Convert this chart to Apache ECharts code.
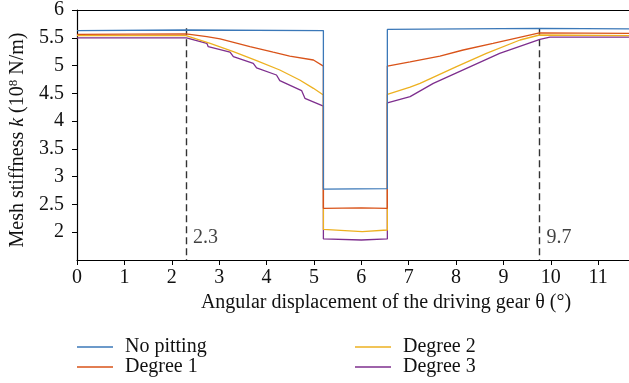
<!DOCTYPE html>
<html>
<head>
<meta charset="utf-8">
<script src="https://cdn.jsdelivr.net/npm/echarts@6/dist/echarts.min.js"></script>
<style>html,body{margin:0;padding:0;background:#fff}#c{width:629px;height:383px}</style>
</head>
<body>
<div id="c"></div>
<script>
const seriesNames = ['No pitting', 'Degree 1', 'Degree 2', 'Degree 3'];
const noPitX = [0, 2.3, 5.2, 5.2, 6.55, 6.55, 9.76, 11.65];
const noPitY = [5.63, 5.64, 5.63, 2.775, 2.785, 5.65, 5.67, 5.66];
const deg1X = [0, 2.3, 2.74, 3.02, 3.65, 4.14, 4.49, 4.99, 5.2, 5.2, 6.0, 6.55, 6.55, 7.03, 7.66, 8.15, 8.78, 9.76, 11.65];
const deg1Y = [5.56, 5.57, 5.52, 5.48, 5.34, 5.24, 5.17, 5.10, 4.99, 2.43, 2.44, 2.43, 4.99, 5.065, 5.17, 5.28, 5.40, 5.59, 5.58];
const deg2X = [0, 2.3, 2.81, 3.30, 3.79, 4.28, 4.70, 4.99, 5.2, 5.2, 6.02, 6.55, 6.55, 7.03, 7.24, 8.01, 8.64, 9.35, 9.76, 11.65];
const deg2Y = [5.54, 5.54, 5.40, 5.25, 5.09, 4.92, 4.74, 4.59, 4.47, 2.05, 2.01, 2.04, 4.48, 4.61, 4.68, 4.98, 5.22, 5.46, 5.55, 5.54];
const deg3X = [0, 2.31, 2.74, 2.77, 3.23, 3.30, 3.72, 3.79, 4.21, 4.28, 4.74, 4.81, 5.2, 5.2, 6.0, 6.55, 6.55, 7.03, 7.52, 8.22, 8.92, 9.77, 9.98, 11.65];
const deg3Y = [5.50, 5.50, 5.40, 5.34, 5.24, 5.16, 5.04, 4.96, 4.83, 4.73, 4.55, 4.41, 4.27, 1.88, 1.86, 1.88, 4.33, 4.44, 4.68, 4.95, 5.22, 5.47, 5.51, 5.51];
const markX = [2.3, 9.76];
const markLabels = ['2.3', '9.7'];
const markTop = 5.67;
const markLabelY = 1.9;
const xMin = 0, xMax = 11.65, yMin = 1.5, yMax = 6;

const colors = ['#3b78b8', '#d95319', '#edb120', '#7e2f8e'];
const font = 'Liberation Serif';
const fs = 20;
const zip = (xs, ys) => xs.map((x, i) => [x, ys[i]]);
const allData = [zip(noPitX, noPitY), zip(deg1X, deg1Y), zip(deg2X, deg2Y), zip(deg3X, deg3Y)];

const lineSeries = seriesNames.map((n, i) => ({
  name: n, type: 'line', data: allData[i], showSymbol: false, symbol: 'none',
  lineStyle: { color: colors[i], width: 1.3 }, itemStyle: { color: colors[i] },
  z: 10 - i, animation: false
}));

const legendPos = [[77, 337], [77, 357], [355, 337], [355, 357]];
const legends = seriesNames.map((n, i) => ({
  data: [n], left: legendPos[i][0], top: legendPos[i][1], icon: 'rect',
  itemWidth: 36, itemHeight: 1.5, padding: 0,
  textStyle: { fontFamily: font, fontSize: fs, color: '#111', padding: [0, 0, 0, 7] }
}));

const option = {
  animation: false,
  color: colors,
  legend: legends,
  grid: { left: 77, top: 10, right: 0, bottom: 123, containLabel: false, outerBoundsMode: 'none' },
  xAxis: [{
    type: 'value', min: xMin, max: xMax, interval: 1,
    name: 'Angular displacement of the driving gear θ (°)', nameLocation: 'middle', nameGap: 33,
    nameTextStyle: { fontFamily: font, fontSize: fs, color: '#111', padding: [0, 0, 0, 66] },
    axisLine: { show: true, onZero: false, lineStyle: { color: '#000', width: 1.2 } },
    axisTick: { show: true, length: 5, inside: false, lineStyle: { color: '#000' } },
    axisLabel: { fontFamily: font, fontSize: fs, color: '#111', margin: 8, showMaxLabel: false,
      formatter: v => (Math.abs(v - Math.round(v)) < 1e-6 ? String(v) : '') },
    splitLine: { show: false }
  }, {
    type: 'value', position: 'top', min: xMin, max: xMax,
    axisLine: { show: true, onZero: false, lineStyle: { color: '#000', width: 1.2 } },
    axisTick: { show: false }, axisLabel: { show: false }, splitLine: { show: false }
  }],
  yAxis: {
    type: 'value', min: yMin, max: yMax, interval: 0.5,
    name: '{a|Mesh stiffness }{i|k}{a| (10}{s|8}{a| N/m)}', nameLocation: 'middle', nameRotate: 90, nameGap: 47,
    nameTextStyle: { fontFamily: font, fontSize: fs, color: '#111', padding: [0, 10, 0, 0],
      rich: {
        a: { fontFamily: font, fontSize: fs, color: '#111' },
        i: { fontFamily: font, fontSize: fs, fontStyle: 'italic', color: '#111' },
        s: { fontFamily: font, fontSize: 13, color: '#111', verticalAlign: 'top', padding: [0, 0, 9, 0] }
      } },
    axisLine: { show: true, onZero: false, lineStyle: { color: '#000', width: 1.2 } },
    axisTick: { show: true, length: 5, lineStyle: { color: '#000' } },
    axisLabel: { fontFamily: font, fontSize: fs, color: '#111', margin: 13, showMinLabel: false },
    splitLine: { show: false }
  },
  series: [
    ...lineSeries,
    {
      type: 'line', data: [], silent: true, z: 20,
      markLine: {
        silent: true, symbol: ['none', 'none'], animation: false,
        lineStyle: { color: '#333', type: [7, 4], width: 1.4 },
        label: { show: false },
        data: markX.map(x => [{ coord: [x, markTop] }, { coord: [x, yMin] }])
      }
    },
    {
      type: 'scatter', symbolSize: 0, silent: true, z: 20,
      data: markX.map((x, i) => ({ value: [x, markLabelY], label: { formatter: markLabels[i] } })),
      label: { show: true, position: 'right', distance: 7, fontFamily: font, fontSize: fs, color: '#111' }
    }
  ]
};
const chart = echarts.init(document.getElementById('c'), null, { renderer: 'canvas' });
chart.setOption(option);
</script>
</body>
</html>
